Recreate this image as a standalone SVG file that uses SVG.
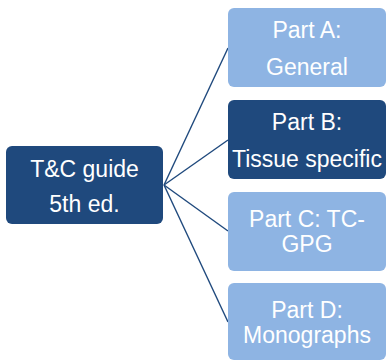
<svg xmlns="http://www.w3.org/2000/svg" width="390" height="361" viewBox="0 0 390 361">
<style>
.dark{fill:#1F497D}
.light{fill:#8EB4E3}
.t{font-family:"Liberation Sans",Arial,sans-serif;font-size:23px;fill:#FFFFFF;text-anchor:middle}
.c{stroke:#1F497D;stroke-width:1.4;fill:none}
</style>
<rect width="390" height="361" fill="#FFFFFF"/>
<g id="connectors">
<line class="c" x1="164" y1="185" x2="228" y2="48"/>
<line class="c" x1="164" y1="185" x2="228" y2="140"/>
<line class="c" x1="164" y1="185" x2="228" y2="231"/>
<line class="c" x1="164" y1="185" x2="228" y2="322"/>
</g>
<g id="root">
<rect class="dark" x="6" y="146" width="157" height="78" rx="6"/>
<text class="t" x="84.5" y="177">T&amp;C guide</text>
<text class="t" x="84.5" y="212">5th ed.</text>
</g>
<g id="partA">
<rect class="light" x="228" y="8" width="158" height="79" rx="6"/>
<text class="t" x="307" y="38">Part A:</text>
<text class="t" x="307" y="75">General</text>
</g>
<g id="partB">
<rect class="dark" x="228" y="100" width="158" height="79" rx="6"/>
<text class="t" x="307" y="130">Part B:</text>
<text class="t" x="307" y="167">Tissue specific</text>
</g>
<g id="partC">
<rect class="light" x="228" y="192" width="158" height="79" rx="6"/>
<text class="t" x="307" y="227">Part C: TC-</text>
<text class="t" x="307" y="252">GPG</text>
</g>
<g id="partD">
<rect class="light" x="228" y="283" width="158" height="77" rx="6"/>
<text class="t" x="307" y="318">Part D:</text>
<text class="t" x="307" y="343">Monographs</text>
</g>
</svg>
